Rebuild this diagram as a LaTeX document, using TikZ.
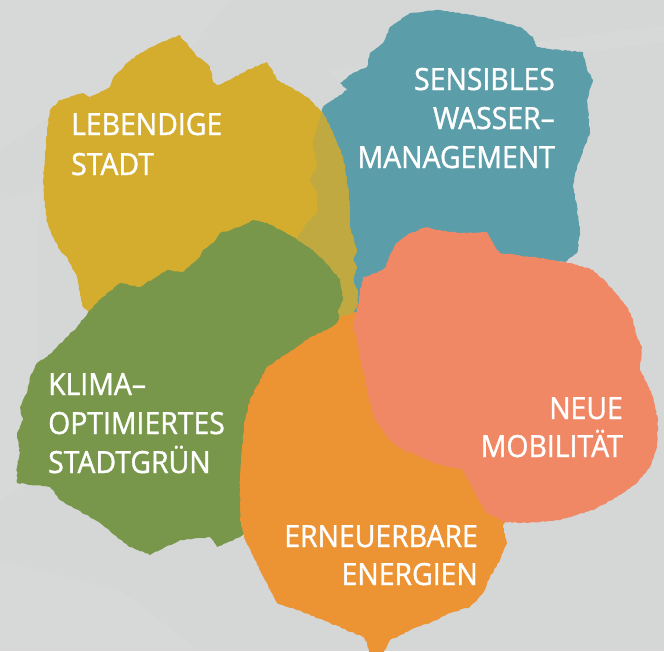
\documentclass[tikz,border=0pt]{standalone}
\usepackage{fontspec}
\setmainfont{Open Sans}[FakeStretch=0.93, FakeBold=1.2]
\usetikzlibrary{decorations.pathmorphing}

\definecolor{bggrey}{HTML}{D5D6D6}
\definecolor{ochre}{HTML}{D4AC2E}
\definecolor{petrol}{HTML}{5B9DA8}
\definecolor{mixolive}{HTML}{BFA940}
\definecolor{leafgreen}{HTML}{78974B}
\definecolor{coral}{HTML}{F08866}
\definecolor{tangerine}{HTML}{EC9334}

\tikzset{
  rough/.style={decorate, decoration={random steps, segment length=2.5pt, amplitude=0.6pt}},
  blob/.style={fill=#1, draw=none, rough},
  label/.style={text=white, inner sep=0pt,
    font=\fontsize{30.5}{39}\selectfont},
  haze/.style={fill=white, fill opacity=0.06, draw=none},
}

% outlines of the five paint patches (pixel units, y pointing down)
\def\tealpath{(410,13)--(440,10)--(483,17)--(520,27)--(533,37)--(537,47)--(560,50)--(583,52)--(587,70)--(593,80)--(587,100)--(590,133)--(583,150)--(577,167)--(573,187)--(577,207)--(580,233)--(577,253)--(565,262)--(540,262)--(500,255)--(450,260)--(400,280)--(365,300)--(355,320)--(340,330)--(310,300)--(297,240)--(300,233)--(307,223)--(317,213)--(317,193)--(310,180)--(317,167)--(313,143)--(317,127)--(323,107)--(333,100)--(347,90)--(340,83)--(353,73)--(367,67)--(370,53)--(383,43)--(390,27)--cycle}
\def\yellowpath{(50,110)--(47,130)--(43,180)--(45,207)--(47,222)--(53,237)--(60,250)--(67,257)--(77,277)--(80,293)--(83,307)--(90,313)--(150,330)--(250,330)--(340,330)--(353,313)--(357,307)--(358,293)--(353,280)--(357,267)--(353,260)--(357,250)--(350,227)--(349,200)--(348,187)--(343,157)--(333,133)--(323,113)--(307,97)--(290,87)--(277,80)--(273,72)--(270,67)--(267,62)--(247,70)--(230,80)--(217,85)--(213,82)--(210,67)--(203,60)--(197,57)--(192,50)--(187,43)--(183,40)--(180,35)--(160,43)--(140,53)--(127,63)--(113,78)--(110,87)--(90,97)--(83,93)--(60,100)--cycle}
\def\greenpath{(17,483)--(17,467)--(20,453)--(17,433)--(23,420)--(20,407)--(27,393)--(30,377)--(37,363)--(47,357)--(57,347)--(67,337)--(77,327)--(90,310)--(103,297)--(120,283)--(140,287)--(167,270)--(183,272)--(200,257)--(203,250)--(213,243)--(220,233)--(240,227)--(253,220)--(267,223)--(293,237)--(313,250)--(330,267)--(340,280)--(343,300)--(338,310)--(340,327)--(345,360)--(300,450)--(260,520)--(240,537)--(217,547)--(210,537)--(180,540)--(150,555)--(130,547)--(100,523)--(60,500)--(50,487)--cycle}
\def\orangepath{(250,400)--(267,367)--(297,347)--(310,337)--(327,330)--(337,323)--(340,317)--(347,315)--(353,313)--(400,300)--(480,380)--(520,480)--(503,527)--(507,543)--(500,560)--(490,577)--(483,593)--(470,607)--(450,613)--(430,623)--(417,627)--(390,640)--(382,656)--(370,656)--(367,642)--(363,637)--(330,623)--(297,610)--(277,603)--(265,580)--(255,560)--(245,540)--(240,520)--(240,480)--(242,450)--(245,420)--cycle}
\def\coralpath{(400,240)--(410,233)--(427,227)--(437,230)--(460,233)--(487,232)--(497,250)--(500,253)--(533,257)--(553,260)--(570,263)--(593,270)--(607,283)--(627,307)--(633,320)--(637,337)--(642,347)--(640,370)--(647,383)--(653,397)--(658,420)--(657,447)--(650,467)--(637,483)--(617,497)--(593,510)--(560,520)--(527,523)--(503,522)--(497,517)--(487,513)--(477,497)--(470,483)--(463,470)--(433,463)--(417,455)--(403,450)--(390,440)--(375,420)--(368,395)--(363,370)--(360,357)--(357,340)--(353,327)--(357,310)--(360,293)--(363,277)--(377,273)--(385,268)--(390,255)--(395,245)--cycle}

\begin{document}
\begin{tikzpicture}[x=1pt, y=-1pt]
  % canvas
  \fill[bggrey] (0,0) rectangle (664,651);
  \useasboundingbox (0,0) rectangle (664,651);

  % faint brush strokes in the background
  \fill[haze] (0,0) -- (230,0) -- (180,60) -- (60,110) -- (0,150) -- cycle;
  \fill[haze] (330,70) -- (664,25) -- (664,42) -- (340,85) -- cycle;
  \fill[haze] (0,200) -- (40,190) -- (35,480) -- (0,500) -- cycle;
  \fill[haze] (0,560) -- (120,590) -- (200,651) -- (0,651) -- cycle;

  % paint patches, back to front (seeds keep each ragged edge reproducible)
  \pgfmathsetseed{11}\fill[blob=petrol] \tealpath;
  \pgfmathsetseed{22}\fill[blob=ochre] \yellowpath;
  \begin{scope}
    \pgfmathsetseed{22}\path[rough, clip] \yellowpath;
    \pgfmathsetseed{11}\fill[blob=mixolive] \tealpath;
  \end{scope}
  \pgfmathsetseed{33}\fill[blob=leafgreen] \greenpath;
  \pgfmathsetseed{44}\fill[blob=tangerine] \orangepath;
  \pgfmathsetseed{55}\fill[blob=coral] \coralpath;

  % labels
  \node[label, anchor=base west] (leb1) at (71,135) {LEBENDIGE};
  \node[label, anchor=base west] (leb2) at (71,175) {STADT};

  \node[label, anchor=base east] (was1) at (555,90) {SENSIBLES};
  \node[label, anchor=base east] (was2) at (555,129) {WASSER–};
  \node[label, anchor=base east] (was3) at (555,168) {MANAGEMENT};

  \node[label, anchor=base west] (kli1) at (48,395) {KLIMA–};
  \node[label, anchor=base west] (kli2) at (48,434) {OPTIMIERTES};
  \node[label, anchor=base west] (kli3) at (48,473) {STADTGRÜN};

  \node[label, anchor=base east] (mob1) at (623,419) {NEUE};
  \node[label, anchor=base east] (mob2) at (623,457) {MOBILITÄT};

  \node[label, anchor=base east] (ene1) at (478,547) {ERNEUERBARE};
  \node[label, anchor=base east] (ene2) at (478,585) {ENERGIEN};
\end{tikzpicture}
\end{document}
